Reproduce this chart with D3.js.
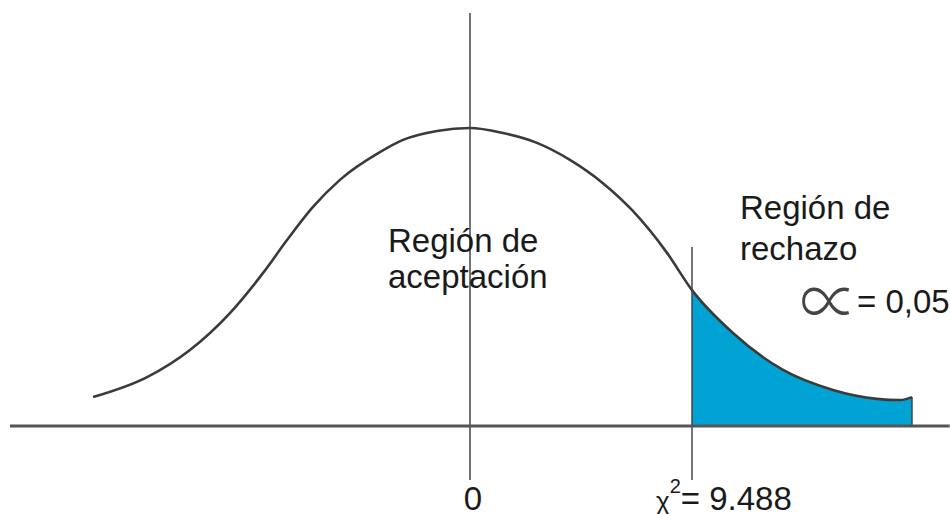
<!DOCTYPE html>
<html>
<head>
<meta charset="utf-8">
<script src="https://cdn.jsdelivr.net/npm/d3@7"></script>
<style>
  body { margin: 0; background: #fff; }
  svg { display: block; font-family: "Liberation Sans", Arial, sans-serif; }
</style>
</head>
<body>
<div id="chart"></div>
<script>
// curve (x in chi-square units, y relative to peak)
const curveX = [-16.11, -13.80, -11.97, -10.26, -8.85, -7.82, -6.71, -5.56, -3.85, -2.86, -1.41, 0, 1.41, 2.86, 4.27, 5.68, 6.92, 8.42, 9.488, 11.24, 13.38, 15.51, 17.39, 18.38, 18.89];
const curveY = [0.097, 0.164, 0.255, 0.379, 0.513, 0.624, 0.735, 0.826, 0.919, 0.960, 0.990, 1.0, 0.983, 0.950, 0.893, 0.815, 0.725, 0.581, 0.456, 0.312, 0.188, 0.121, 0.091, 0.087, 0.097];
const critical = 9.488;
const alpha = '0,05';
const axisRange = [-19.66, 20.5];

const width = 950, height = 514;

const x = d3.scaleLinear().domain([0, critical]).range([470, 692]);
const y = d3.scaleLinear().domain([0, 1]).range([426, 128]);

const points = curveX.map((d, i) => ({ x: d, y: curveY[i] }));

const svg = d3.select('#chart').append('svg')
  .attr('width', width)
  .attr('height', height);

// rejection region
svg.append('clipPath').attr('id', 'tail')
  .append('rect')
  .attr('x', x(critical))
  .attr('y', 0)
  .attr('width', x(curveX[curveX.length - 1]) - x(critical))
  .attr('height', y(0));

svg.append('path')
  .datum(points)
  .attr('clip-path', 'url(#tail)')
  .attr('fill', '#00a3d4')
  .attr('d', d3.area().x(d => x(d.x)).y0(y(0)).y1(d => y(d.y)).curve(d3.curveMonotoneX));

// right edge of the filled tail
const last = points[points.length - 1];
svg.append('line')
  .attr('x1', x(last.x)).attr('x2', x(last.x))
  .attr('y1', y(last.y)).attr('y2', y(0))
  .attr('stroke', '#444').attr('stroke-width', 1.5);

// density curve
svg.append('path')
  .datum(points)
  .attr('fill', 'none')
  .attr('stroke', '#3a3a3a')
  .attr('stroke-width', 2.6)
  .attr('d', d3.line().x(d => x(d.x)).y(d => y(d.y)).curve(d3.curveMonotoneX));

// vertical lines
svg.append('line')
  .attr('x1', x(0)).attr('x2', x(0))
  .attr('y1', 13).attr('y2', 480)
  .attr('stroke', '#444').attr('stroke-width', 1.5);

svg.append('line')
  .attr('x1', x(critical)).attr('x2', x(critical))
  .attr('y1', 247).attr('y2', 480)
  .attr('stroke', '#444').attr('stroke-width', 1.5);

// horizontal axis
svg.append('line')
  .attr('x1', x(axisRange[0])).attr('x2', x(axisRange[1]))
  .attr('y1', y(0)).attr('y2', y(0))
  .attr('stroke', '#555').attr('stroke-width', 3);

// labels
const txt = svg.append('g').attr('fill', '#1a1a1a').attr('font-size', 33);

txt.append('text').attr('x', x(0) + 3).attr('y', 510).attr('text-anchor', 'middle').text('0');

const chi = txt.append('text').attr('x', 656).attr('y', 510);
chi.append('tspan').attr('font-size', 26).text('χ');
chi.append('tspan').attr('font-size', 20).attr('dy', -17).text('2');
chi.append('tspan').attr('dy', 17).text('= ' + critical.toFixed(3));

txt.append('text').attr('x', 388).attr('y', 252).text('Región de');
txt.append('text').attr('x', 388).attr('y', 288).text('aceptación');

txt.append('text').attr('x', 740).attr('y', 219).text('Región de');
txt.append('text').attr('x', 740).attr('y', 260).text('rechazo');

svg.append('text')
  .attr('transform', 'translate(800,328) scale(1.45,1.75)')
  .attr('font-family', '"Noto Sans CJK JP", "DejaVu Sans"')
  .attr('font-weight', 300)
  .attr('font-size', 40)
  .attr('fill', '#444')
  .text('∝');
txt.append('text').attr('x', 857).attr('y', 313).text('= ' + alpha);
</script>
</body>
</html>
